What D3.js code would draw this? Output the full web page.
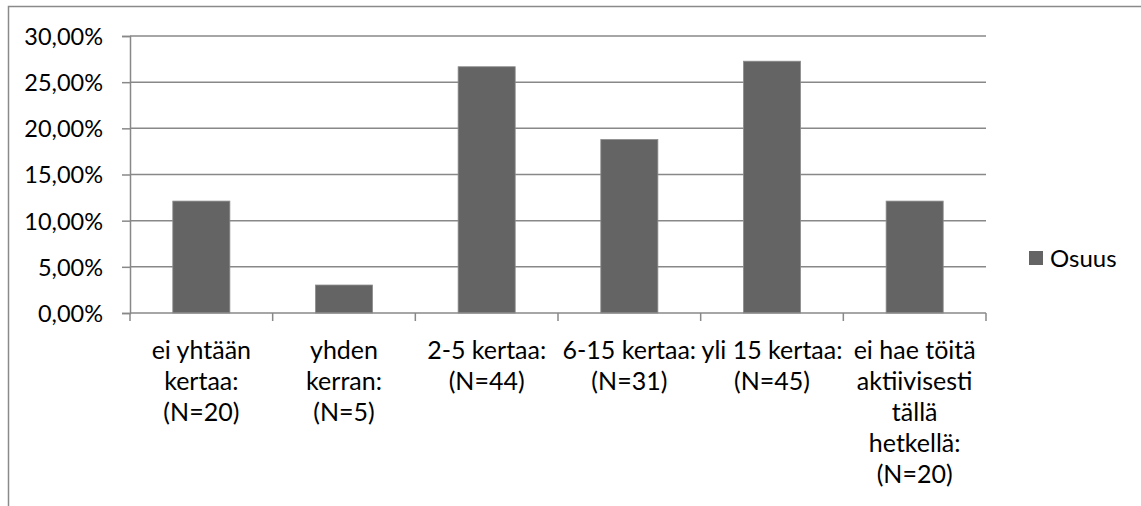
<!DOCTYPE html>
<html>
<head>
<meta charset="utf-8">
<script src="https://cdn.jsdelivr.net/npm/d3@7"></script>
<style>
  body { margin: 0; background: #fff; }
  text { font-family: Lato, "Open Sans", sans-serif; fill: #000; }
</style>
</head>
<body>
<div id="chart"></div>
<script>
// categories (wrapped as in the original) and values
var categories = [
  ["ei yhtään", "kertaa:", "(N=20)"],
  ["yhden", "kerran:", "(N=5)"],
  ["2-5 kertaa:", "(N=44)"],
  ["6-15 kertaa:", "(N=31)"],
  ["yli 15 kertaa:", "(N=45)"],
  ["ei hae töitä", "aktiivisesti", "tällä", "hetkellä:", "(N=20)"]
];
var osuus = [12.12, 3.03, 26.67, 18.79, 27.27, 12.12];
var yTicks = [0, 5, 10, 15, 20, 25, 30];
var seriesName = "Osuus";

var W = 1141, H = 506;
var margin = {top: 36, right: 155, bottom: 193, left: 130},
    width = W - margin.left - margin.right,
    height = H - margin.top - margin.bottom;

var svg = d3.select("#chart").append("svg")
    .attr("width", W)
    .attr("height", H);

// outer chart border (runs off the picture on right/bottom)
svg.append("rect")
    .attr("x", 8.5).attr("y", 6.5)
    .attr("width", 1300).attr("height", 700)
    .attr("fill", "none")
    .attr("stroke", "#8a8a8a")
    .attr("stroke-width", 1.5);

var g = svg.append("g")
    .attr("transform", "translate(" + margin.left + "," + margin.top + ")");

var x = d3.scaleBand()
    .domain(d3.range(categories.length))
    .range([0, width])
    .paddingInner(0.6)
    .paddingOuter(0.3);

var y = d3.scaleLinear().domain([0, 30]).range([height, 0]);

var fmt = function(v) { return v.toFixed(2).replace(".", ",") + "%"; };

// gridlines + y axis
var yAxis = g.append("g")
    .call(d3.axisLeft(y).tickValues(yTicks).tickSize(8).tickFormat(fmt));
yAxis.select(".domain").attr("stroke", "#888").attr("stroke-width", 1.5);
yAxis.selectAll(".tick line").attr("stroke", "#888").attr("stroke-width", 1.5);
yAxis.selectAll(".tick text")
    .attr("x", -27)
    .attr("dy", "0.36em")
    .style("font-size", "23.5px")
    .style("font-family", "Lato, 'Open Sans', sans-serif")
    .attr("fill", "#000");

g.selectAll(".grid")
    .data(yTicks.filter(function(d) { return d > 0; }))
    .enter().append("line")
    .attr("class", "grid")
    .attr("x1", 0).attr("x2", width)
    .attr("y1", function(d) { return y(d); })
    .attr("y2", function(d) { return y(d); })
    .attr("stroke", "#888")
    .attr("stroke-width", 1.5);

// bars
g.selectAll(".bar")
    .data(osuus)
    .enter().append("rect")
    .attr("class", "bar")
    .attr("x", function(d, i) { return x(i); })
    .attr("width", x.bandwidth())
    .attr("y", function(d) { return y(d); })
    .attr("height", function(d) { return height - y(d); })
    .attr("fill", "#646464")
    .attr("stroke", "#8c8c8c")
    .attr("stroke-width", 0.8);

// x axis line with category-boundary ticks
var step = width / categories.length;
g.append("line")
    .attr("x1", 0).attr("x2", width)
    .attr("y1", height).attr("y2", height)
    .attr("stroke", "#888").attr("stroke-width", 1.5);
g.selectAll(".xtick")
    .data(d3.range(categories.length + 1))
    .enter().append("line")
    .attr("x1", function(d) { return d * step; })
    .attr("x2", function(d) { return d * step; })
    .attr("y1", height).attr("y2", height + 8)
    .attr("stroke", "#888").attr("stroke-width", 1.5);

// category labels
var lab = g.selectAll(".xlab")
    .data(categories)
    .enter().append("text")
    .attr("class", "xlab")
    .attr("text-anchor", "middle")
    .style("font-size", "25px")
    .attr("transform", function(d, i) {
      return "translate(" + (x(i) + x.bandwidth() / 2) + "," + (height + 46) + ")";
    });
lab.selectAll("tspan")
    .data(function(d) { return d; })
    .enter().append("tspan")
    .attr("x", 0)
    .attr("y", function(d, i) { return i * 31; })
    .text(function(d) { return d; });

// legend
var leg = svg.append("g").attr("transform", "translate(1029,251)");
leg.append("rect")
    .attr("width", 14).attr("height", 14)
    .attr("fill", "#646464");
leg.append("text")
    .attr("x", 21).attr("y", 7)
    .attr("dy", "0.36em")
    .style("font-size", "24px")
    .text(seriesName);
</script>
</body>
</html>
